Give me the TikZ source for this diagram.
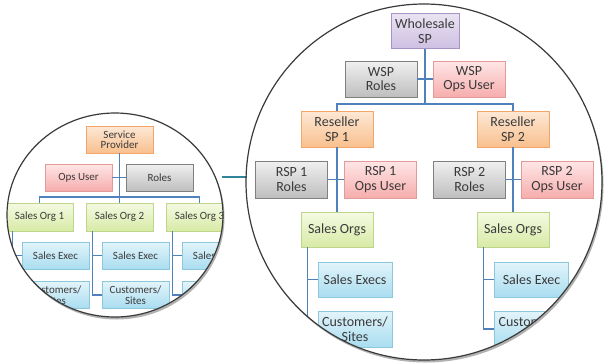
\documentclass[tikz,border=0pt]{standalone}
\usepackage{fontspec}
\setmainfont{Carlito}
\usetikzlibrary{shadows}
\definecolor{txt}{HTML}{3A3A3A}
\definecolor{conn}{HTML}{4F81BD}
\definecolor{teal}{HTML}{31849B}
\definecolor{rim}{HTML}{3A3A3A}
\definecolor{purT}{HTML}{EAE4F2}\definecolor{purB}{HTML}{CDBFE2}\definecolor{purD}{HTML}{A893C8}
\definecolor{gryT}{HTML}{F0F0F0}\definecolor{gryB}{HTML}{BEBEBE}\definecolor{gryD}{HTML}{808080}
\definecolor{pnkT}{HTML}{FFE6E6}\definecolor{pnkB}{HTML}{F6ADAD}\definecolor{pnkD}{HTML}{E29A9A}
\definecolor{orgT}{HTML}{FDE8D6}\definecolor{orgB}{HTML}{F9C08E}\definecolor{orgD}{HTML}{F2A66A}
\definecolor{grnT}{HTML}{F4FAE2}\definecolor{grnB}{HTML}{D8EAA6}\definecolor{grnD}{HTML}{BFD68A}
\definecolor{bluT}{HTML}{E2F4FA}\definecolor{bluB}{HTML}{A9DDF0}\definecolor{bluD}{HTML}{8CC7DD}
\begin{document}
\begin{tikzpicture}[x=1pt,y=-1pt,
  box/.style={draw, line width=0.6pt, align=center, inner sep=0pt, text=txt,
    drop shadow={shadow xshift=0.9pt, shadow yshift=-0.9pt, opacity=0.25, fill=black}},
  bigbox/.style={box, minimum width=72pt, minimum height=36pt, font=\fontsize{14}{14.5}\selectfont},
  smallbox/.style={box, minimum width=67pt, minimum height=27pt, font=\fontsize{11}{10.5}\selectfont},
  purbox/.style={top color=purT, bottom color=purB, draw=purD},
  grybox/.style={top color=gryT, bottom color=gryB, draw=gryD},
  pnkbox/.style={top color=pnkT, bottom color=pnkB, draw=pnkD},
  orgbox/.style={top color=orgT, bottom color=orgB, draw=orgD},
  grnbox/.style={top color=grnT, bottom color=grnB, draw=grnD},
  blubox/.style={top color=bluT, bottom color=bluB, draw=bluD},
  link/.style={draw=conn, line width=1.2pt},
  lens/.style={draw=rim, line width=1.2pt}
]
\useasboundingbox (0,0) rectangle (607,362);

% ---------- lenses: shadows and white fills
\fill[black, opacity=0.3] (116.5,217.5) ellipse [x radius=108pt, y radius=102pt];
\fill[white] (115,215) ellipse [x radius=108pt, y radius=102pt];
\fill[black, opacity=0.3] (425.5,184.5) circle [radius=178pt];
\fill[white] (424,182) circle [radius=178pt];

% ---------- connector between lenses
\coordinate (lensA) at (222,177);
\coordinate (lensB) at (246.5,177);
\draw[draw=teal, line width=1.3pt] (lensA) -- (lensB);

% ---------- small lens content
\begin{scope}
\clip (115,215) ellipse [x radius=108pt, y radius=102pt];
\node[smallbox, orgbox] (sp) at (119.5,139.5) {Service\\Provider};
\node[smallbox, pnkbox] (ops) at (78.5,177.5) {Ops User};
\node[smallbox, grybox] (roles) at (159.5,177.5) {Roles};
\node[smallbox, grnbox, minimum height=28pt] (org1) at (39.5,217) {Sales Org 1};
\node[smallbox, grnbox, minimum height=28pt] (org2) at (119.5,217) {Sales Org 2};
\node[smallbox, grnbox, minimum height=28pt] (org3) at (199.5,217) {Sales Org 3};
\foreach \i/\x in {1/55.5,2/135.5,3/215.5}{
  \node[smallbox, blubox] (se\i) at (\x,255.5) {Sales Exec};
  \node[smallbox, blubox] (cu\i) at (\x,295) {Customers/\\Sites};
}
\coordinate (sbus) at (119.5,197);
\draw[link] (sp.south) -- (sbus);
\draw[link] (ops.east) -- (roles.west);
\draw[link] (org1.north) |- (sbus) -| (org3.north);
\draw[link] (sbus) -- (org2.north);
\foreach \i in {1,2,3}{
  \coordinate (ol\i) at ([xshift=7pt]org\i.south west);
  \draw[link] (ol\i) |- (cu\i.west);
  \draw[link] (se\i.west) -- (se\i.west -| ol\i);
}
\end{scope}
\draw[lens] (115,215) ellipse [x radius=108pt, y radius=102pt];

% ---------- big lens content
\begin{scope}
\clip (424,182) circle [radius=178pt];
\node[bigbox, purbox, minimum width=68pt, minimum height=35pt] (wsp) at (425,31) {Wholesale\\SP};
\node[bigbox, grybox] (wspr) at (381,79) {WSP\\Roles};
\node[bigbox, pnkbox] (wspo) at (469,79) {WSP\\Ops User};
\node[bigbox, orgbox] (rsp1) at (337,129) {Reseller\\SP 1};
\node[bigbox, orgbox] (rsp2) at (513,129) {Reseller\\SP 2};
\node[bigbox, grybox, minimum height=37pt] (r1r) at (291.5,179.5) {RSP 1\\Roles};
\node[bigbox, pnkbox, minimum height=37pt] (r1o) at (380.5,179.5) {RSP 1\\Ops User};
\node[bigbox, grybox, minimum height=37pt] (r2r) at (469.5,179.5) {RSP 2\\Roles};
\node[bigbox, pnkbox, minimum height=37pt] (r2o) at (557,179.5) {RSP 2\\Ops User};
\node[bigbox, grnbox, minimum height=35pt] (so1) at (337,229.5) {Sales Orgs};
\node[bigbox, grnbox, minimum height=35pt] (so2) at (513,229.5) {Sales Orgs};
\node[bigbox, blubox, minimum width=74pt, minimum height=35pt] (be1) at (355,279.5) {Sales Execs};
\node[bigbox, blubox, minimum width=74pt] (bc1) at (355,329) {Customers/\\Sites};
\node[bigbox, blubox, minimum width=74pt, minimum height=35pt] (be2) at (531.5,279.5) {Sales Exec};
\node[bigbox, blubox, minimum width=74pt] (bc2) at (531.5,329) {Customers/\\Sites};
\coordinate (bbus) at (425,104);
\draw[link] (wsp.south) -- (bbus);
\draw[link] (wspr.east) -- (wspo.west);
\draw[link] (rsp1.north) |- (bbus) -| (rsp2.north);
\draw[link] (rsp1.south) -- (so1.north);
\draw[link] (rsp2.south) -- (so2.north);
\draw[link] (r1r.east) -- (r1o.west);
\draw[link] (r2r.east) -- (r2o.west);
\foreach \i in {1,2}{
  \coordinate (sl\i) at ([xshift=7pt]so\i.south west);
  \draw[link] (sl\i) |- (bc\i.west);
  \draw[link] (be\i.west) -- (be\i.west -| sl\i);
}
\end{scope}
\draw[lens] (424,182) circle [radius=178pt];
\end{tikzpicture}
\end{document}
